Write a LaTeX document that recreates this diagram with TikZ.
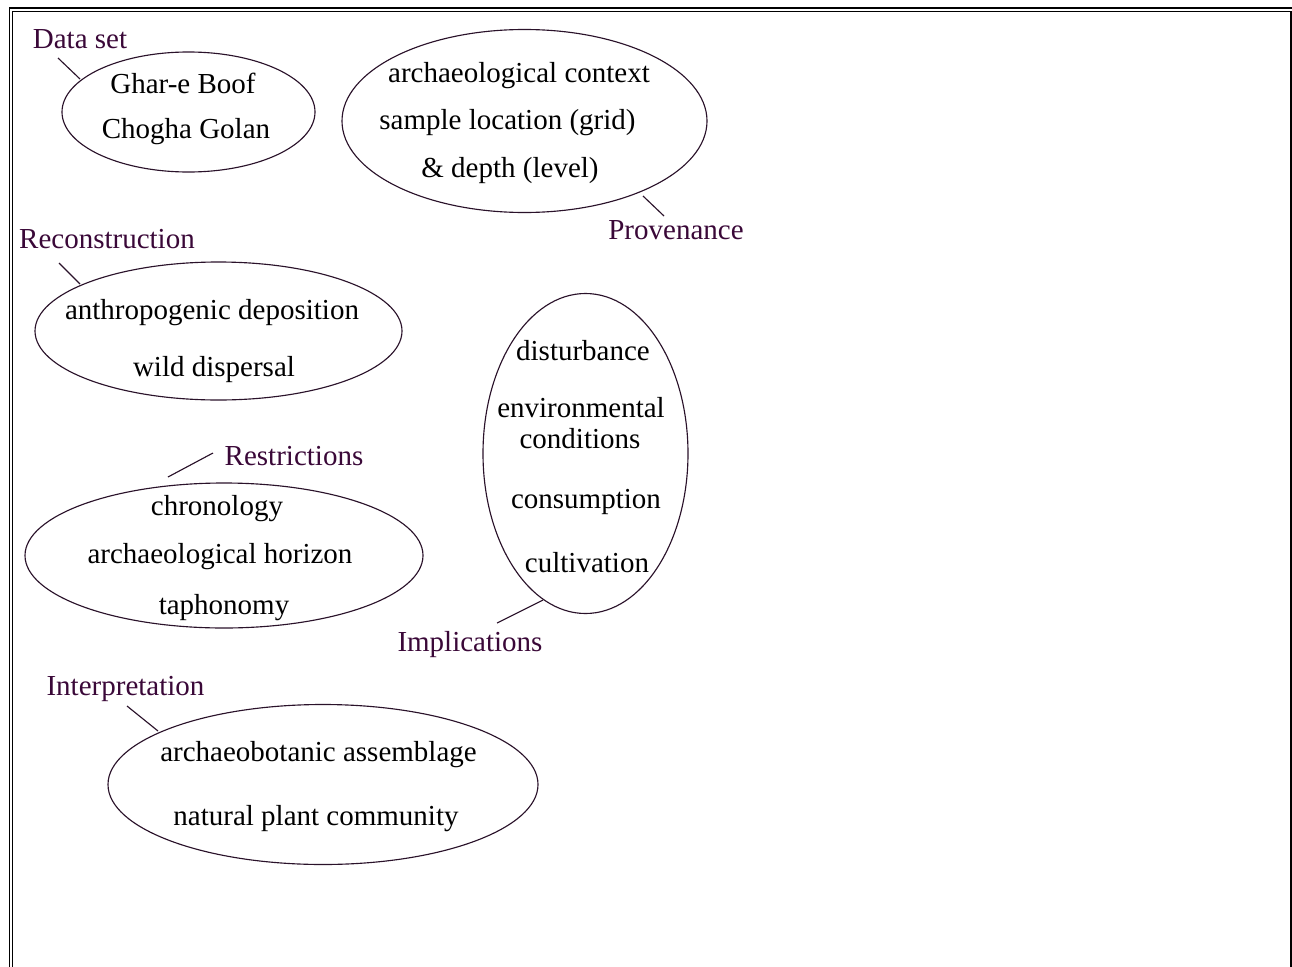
\documentclass[tikz,border=0pt]{standalone}
\usepackage{fontspec}
\setmainfont{Liberation Serif}
\usetikzlibrary{shapes.geometric}
\definecolor{labpurple}{HTML}{3A0838}
\definecolor{edgepurple}{HTML}{2A122A}
\begin{document}
\begin{tikzpicture}[x=0.75pt,y=-0.75pt,
  every node/.style={font=\fontsize{21.75}{26}\selectfont, inner sep=0pt, outer sep=0pt},
  blob/.style={ellipse, draw=edgepurple, line width=0.85pt, fill=white},
  itemtext/.style={anchor=base, text=black},
  labeltext/.style={anchor=base, text=labpurple},
  leader/.style={draw=edgepurple, line width=0.85pt},
  frame/.style={draw=black, line width=1.1pt}]
\useasboundingbox (0,0) rectangle (1292,967);
\fill[white] (0,0) rectangle (1292,967);
% frame
\draw[frame] (9.5,990) -- (9.5,8) -- (1310,8);
\draw[frame] (12.5,990) -- (12.5,11.5) -- (1291,11.5) -- (1291,990);

% ellipses
\node[blob, minimum width=189.75pt, minimum height=90pt] (e1) at (188.5,112) {};
\node[blob, minimum width=273.75pt, minimum height=137.25pt] (e2) at (524.5,121) {};
\node[blob, minimum width=275.25pt, minimum height=103.5pt] (e3) at (218.5,331) {};
\node[blob, minimum width=298.5pt, minimum height=108.75pt] (e4) at (224,555.5) {};
\node[blob, minimum width=153.75pt, minimum height=240pt] (e5) at (585.5,453.5) {};
\node[blob, minimum width=322.5pt, minimum height=120pt] (e6) at (323,784.5) {};

% texts inside ellipses
\node[itemtext] (t11) at (183,93) {Ghar-e Boof};
\node[itemtext] (t12) at (186,138) {Chogha Golan};
\node[itemtext] (t21) at (519,82) {archaeological context};
\node[itemtext] (t22) at (507.5,129) {sample location (grid)};
\node[itemtext] (t23) at (510,177) {\& depth (level)};
\node[itemtext] (t31) at (212,319) {anthropogenic deposition};
\node[itemtext] (t32) at (214,376) {wild dispersal};
\node[itemtext] (t41) at (217,515) {chronology};
\node[itemtext] (t42) at (220,563) {archaeological horizon};
\node[itemtext] (t43) at (224,614) {taphonomy};
\node[itemtext] (t51) at (583,360) {disturbance};
\node[itemtext] (t52) at (581,417) {environmental};
\node[itemtext] (t53) at (580,448) {conditions};
\node[itemtext] (t54) at (586,508) {consumption};
\node[itemtext] (t55) at (587,572) {cultivation};
\node[itemtext] (t61) at (318.5,761) {archaeobotanic assemblage};
\node[itemtext] (t62) at (316,825) {natural plant community};

% labels
\node[labeltext] (l1) at (80,48) {Data set};
\node[labeltext] (l2) at (676,239) {Provenance};
\node[labeltext] (l3) at (107,248) {Reconstruction};
\node[labeltext] (l4) at (294,465) {Restrictions};
\node[labeltext] (l5) at (470,651) {Implications};
\node[labeltext] (l6) at (125.5,695) {Interpretation};

% leader end points
\coordinate (a1) at (58,58);   \coordinate (b1) at (80,79);
\coordinate (a2) at (664,216); \coordinate (b2) at (643,196);
\coordinate (a3) at (59,263);  \coordinate (b3) at (80,284);
\coordinate (a4) at (213,453); \coordinate (b4) at (168,477);
\coordinate (a5) at (497,623); \coordinate (b5) at (543,600);
\coordinate (a6) at (127,706); \coordinate (b6) at (158,731);

\draw[leader] (a1) -- (b1);
\draw[leader] (a2) -- (b2);
\draw[leader] (a3) -- (b3);
\draw[leader] (a4) -- (b4);
\draw[leader] (a5) -- (b5);
\draw[leader] (a6) -- (b6);
\end{tikzpicture}
\end{document}
